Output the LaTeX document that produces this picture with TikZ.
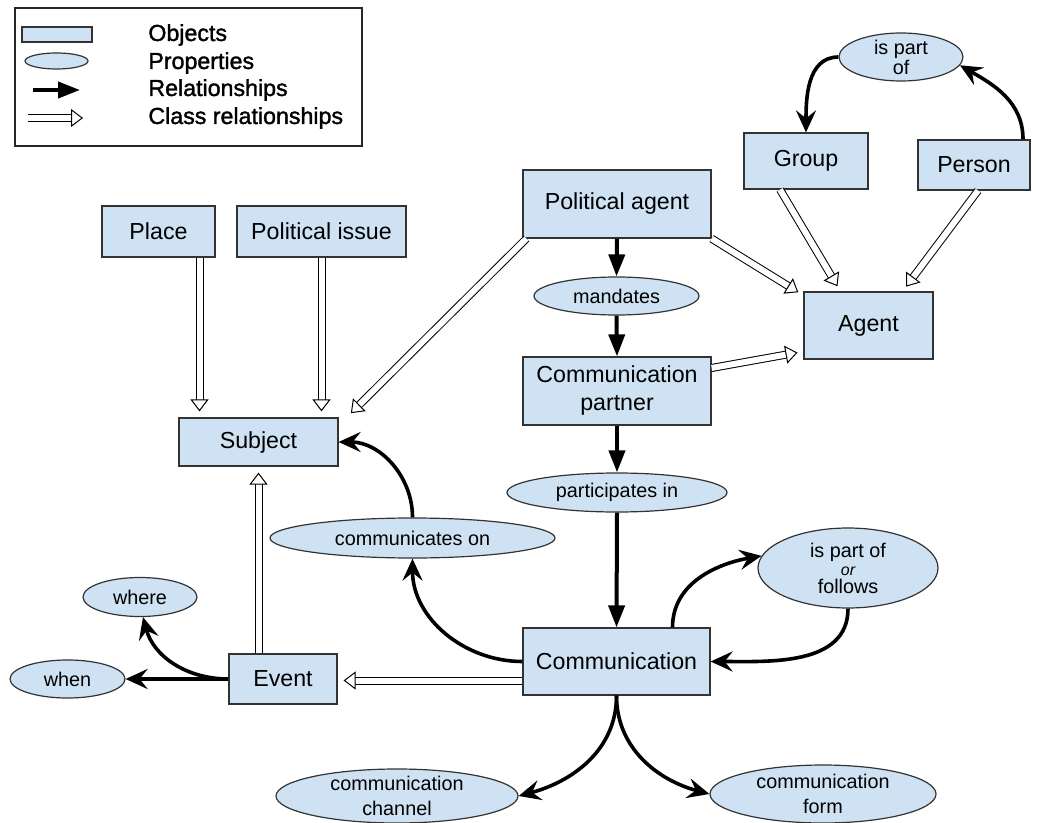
\documentclass[tikz,border=0pt]{standalone}
\usepackage{fontspec}
\setmainfont{Liberation Sans}
\newfontfamily\legendfont{Liberation Sans}[FakeBold=1.5]
\usetikzlibrary{arrows.meta,shapes.geometric,calc}
\definecolor{objblue}{HTML}{CFE2F3}
\tikzset{obj box/.style={draw=black!80, fill=objblue, line width=0.6pt, inner sep=2pt, align=center, font=\fontsize{11.6}{14}\selectfont}}
\tikzset{prop oval/.style={ellipse, draw=black!80, fill=objblue, line width=0.6pt, inner sep=0pt, align=center, font=\fontsize{9.9}{11}\selectfont}}
\tikzset{rel edge/.style={-{Triangle[length=11pt,width=8pt]}, line width=2pt}}
\tikzset{rel bent/.style={-{Stealth[length=11pt,width=10pt,inset=4pt]}, line width=1.8pt}}
\tikzset{class edge/.style={double, double distance=3pt, line width=0.5pt, -{Triangle[open,length=6pt,width=9pt]}, shorten >=3pt}}
\tikzset{legend text/.style={anchor=west, inner sep=0pt, font=\legendfont\fontsize{11.6}{14}\selectfont}}

\begin{document}
\begin{tikzpicture}[x=0.5pt,y=0.5pt]
		\useasboundingbox (0,0) rectangle (1037,-823);

		% legend
		\draw[black!85, line width=0.6pt] (15,-8) rectangle (362,-146);
		\node[obj box, minimum width=35pt, minimum height=7.5pt, inner sep=0pt] (legobj) at (57,-34.5) {};
		\node[prop oval, minimum width=31.5pt, minimum height=8pt] (legprop) at (56.5,-61) {};
		\coordinate (legrelA) at (33,-90);
		\coordinate (legrelB) at (80,-90);
		\draw[rel edge] (legrelA) -- (legrelB);
		\coordinate (legclsA) at (28,-118);
		\coordinate (legclsB) at (83,-118);
		\draw[class edge, shorten >=0pt] (legclsA) -- (legclsB);
		\node[legend text] (legobjtxt) at (148,-35) {Objects};
		\node[legend text] (legproptxt) at (148,-63) {Properties};
		\node[legend text] (legreltxt) at (148,-90) {Relationships};
		\node[legend text] (legclstxt) at (148,-118) {Class relationships};

		% objects
		\node[obj box, minimum width=56.5pt, minimum height=25.5pt] (place) at (158.5,-231.5) {Place};
		\node[obj box, minimum width=84.5pt, minimum height=25.5pt] (issue) at (321.5,-231.5) {Political issue};
		\node[obj box, minimum width=94pt, minimum height=34pt] (pagent) at (617,-204) {Political agent};
		\node[obj box, minimum width=62pt, minimum height=28pt] (group) at (806,-161) {Group};
		\node[obj box, minimum width=56pt, minimum height=25pt] (person) at (974,-165) {Person};
		\node[obj box, minimum width=64.5pt, minimum height=33.5pt] (agent) at (868.5,-325.5) {Agent};
		\node[obj box, minimum width=94pt, minimum height=34pt] (cpartner) at (617,-391) {Communication\\partner};
		\node[obj box, minimum width=79.5pt, minimum height=24pt] (subject) at (258.5,-442) {Subject};
		\node[obj box, minimum width=93.5pt, minimum height=33.5pt] (comm) at (616.5,-661.5) {Communication};
		\node[obj box, minimum width=54pt, minimum height=25pt] (event) at (283,-679) {Event};

		% properties
		\node[prop oval, minimum width=62pt, minimum height=24pt, inner ysep=-2pt, font=\fontsize{9.9}{10}\selectfont] (partof) at (901,-57) {is part\\of};
		\node[prop oval, minimum width=82.5pt, minimum height=19pt] (mandates) at (616.5,-296) {mandates};
		\node[prop oval, minimum width=110pt, minimum height=19.5pt] (partic) at (617,-492.5) {participates in};
		\node[prop oval, minimum width=142.5pt, minimum height=20pt] (commson) at (412.5,-538) {communicates on};
		\node[prop oval, minimum width=90pt, minimum height=40pt, font=\fontsize{9.9}{9}\selectfont] (follows) at (848,-568) {is part of\\{\fontsize{8}{9}\selectfont\itshape or}\\follows};
		\node[prop oval, minimum width=57pt, minimum height=19.5pt] (where) at (140,-597) {where};
		\node[prop oval, minimum width=57.5pt, minimum height=19pt] (when) at (67.5,-679) {when};
		\node[prop oval, minimum width=121pt, minimum height=27pt, inner ysep=-2pt, font=\fontsize{9.9}{12.5}\selectfont] (channel) at (397,-796) {communication\\channel};
		\node[prop oval, minimum width=113pt, minimum height=29pt, inner ysep=-2pt, font=\fontsize{9.9}{12.5}\selectfont] (form) at (823,-794) {communication\\form};

		% relationships
		\draw[rel edge] (pagent.south) -- (mandates.north);
		\draw[rel edge] (mandates.south) -- (cpartner.north);
		\draw[rel edge] (cpartner.south) -- (partic.north);
		\draw[rel edge] (partic.south) -- (comm.north);
		\draw[rel bent] (comm.west) to[out=180,in=-90] (commson.south);
		\draw[rel bent] (commson.north) to[out=90,in=0] (subject.east);
		\draw[rel bent] ([xshift=28pt]comm.north) to[out=90,in=190] (follows.172);
		\draw[rel bent] (follows.south) to[out=-90,in=0] (comm.east);
		\draw[rel bent] ([xshift=24.5pt]person.north) to[out=90,in=-30] (partof.-8);
		\draw[rel bent] (partof.west) to[out=180,in=90] (group.north);
		\draw[rel bent] (event.west) -- (when.east);
		\draw[rel bent] (event.west) to[out=180,in=-75] ([xshift=1.5pt]where.south);
		\draw[rel bent] (comm.south) to[out=-90,in=15] (channel.east);
		\draw[rel bent] (comm.south) to[out=-90,in=165] (form.west);

		% class relationships
		\draw[class edge] ([xshift=20.5pt]place.south) -- ([xshift=20.5pt]place.south |- subject.north);
		\draw[class edge] (issue.south) -- (issue.south |- subject.north);
		\draw[class edge] ([xshift=2pt]pagent.south west) -- ([xshift=4pt]subject.north east);
		\draw[class edge] (pagent.south east) -- ([yshift=-2pt]agent.north west);
		\draw[class edge] ([xshift=-13pt]group.south) -- ([xshift=-14pt]agent.north);
		\draw[class edge] ([xshift=2pt]person.south) -- ([xshift=17pt]agent.north);
		\draw[class edge] ([yshift=11.5pt]cpartner.east) -- ([yshift=-13pt]agent.west);
		\draw[class edge] ([yshift=-9.5pt]comm.west) -- ([yshift=-9.5pt]comm.west -| event.east);
		\draw[class edge] (subject.south |- event.north) -- (subject.south);
	\end{tikzpicture}
\end{document}
